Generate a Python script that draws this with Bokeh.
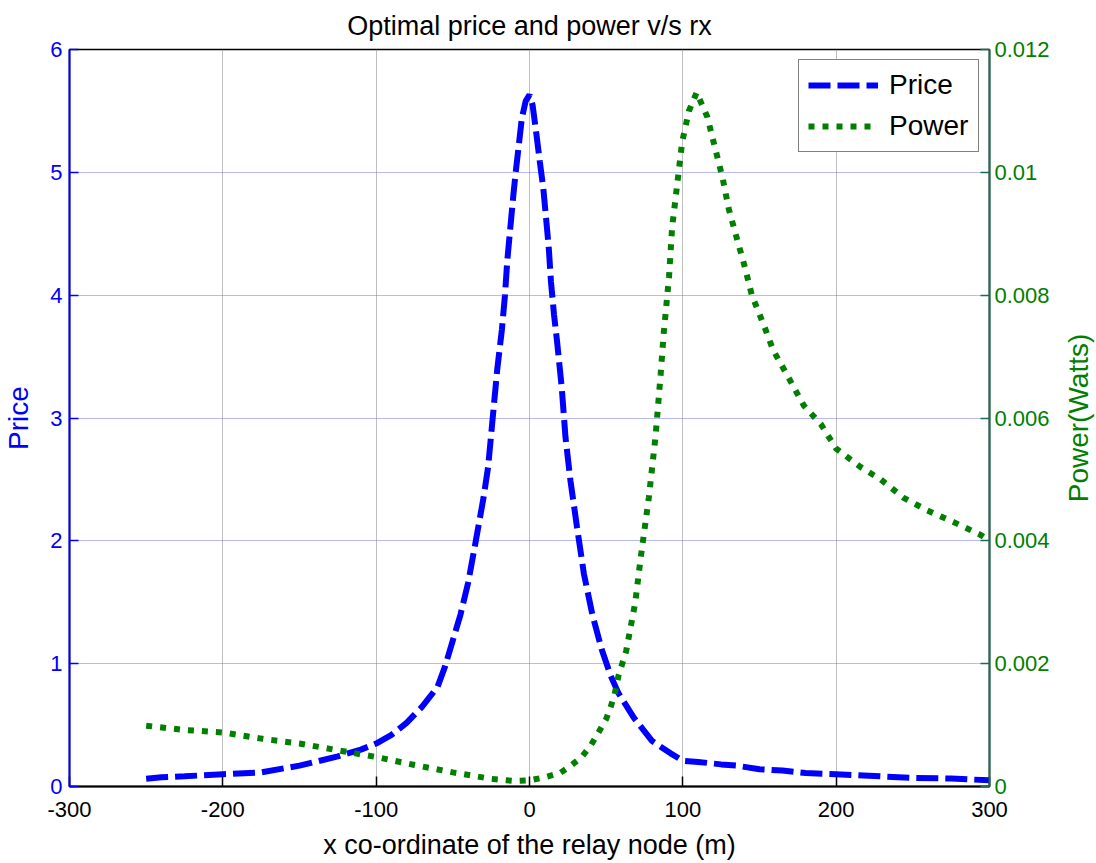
from bokeh.plotting import figure
from bokeh.layouts import row
from bokeh.models import (Range1d, LinearAxis, FixedTicker, CustomJSTickFormatter,
                          Legend, LegendItem, Title)
from bokeh.embed import file_html
from bokeh.resources import INLINE

# ---------------- data ----------------
price_x = [-250, -240, -225, -200, -175, -150, -125, -110, -100, -90, -80, -70, -60, -55,
           -50, -45, -40, -35, -30, -27, -24, -21, -18, -16, -14.5, -12.5, -10.5, -9, -7,
           -5, -2.5, 0, 2, 4, 6.7, 9, 11, 12.6, 14, 16, 18, 21, 23.5, 26.7, 31, 35.5, 41,
           47, 53, 58, 68, 80, 92, 100, 110, 125, 135, 150, 165, 180, 200, 225, 250, 275, 300]
price_y = [0.063, 0.075, 0.083, 0.10, 0.115, 0.17, 0.245, 0.30, 0.35, 0.42, 0.52, 0.65, 0.81, 0.98,
           1.19, 1.40, 1.66, 2.0, 2.35, 2.6, 3.0, 3.4, 3.72, 4.0, 4.28, 4.55, 4.82, 5.0, 5.22,
           5.44, 5.58, 5.63, 5.55, 5.36, 5.09, 4.87, 4.60, 4.38, 4.11, 3.84, 3.62, 3.25, 2.84, 2.49,
           2.11, 1.73, 1.40, 1.12, 0.90, 0.76, 0.56, 0.37, 0.27, 0.21, 0.20, 0.18, 0.17, 0.14, 0.13,
           0.11, 0.10, 0.085, 0.07, 0.065, 0.05]

power_x = [-250, -225, -200, -175, -150, -125, -100, -75, -50, -25, -10, 0, 10, 20, 27, 34, 40,
           45, 50, 53, 55.5, 58, 60.5, 63, 69, 72.4, 77.8, 82.2, 85.5, 87.6, 91, 93, 96.3, 99.6,
           104, 109, 116, 121, 126, 130, 135.5, 140, 145, 153, 159, 168, 179, 190, 200, 216, 229,
           244, 259, 277, 294, 300]
power_y = [0.00099, 0.00092, 0.00088, 0.00078, 0.00070, 0.00059, 0.00048, 0.00035, 0.00023,
           0.000125, 0.00009, 0.0001, 0.00015, 0.00022, 0.00034, 0.00048, 0.00067, 0.00088,
           0.0011, 0.0013, 0.0015, 0.0018, 0.0020, 0.0022, 0.0030, 0.0037, 0.0047, 0.0057,
           0.0067, 0.0074, 0.0083, 0.0091, 0.0098, 0.0105, 0.0110, 0.0113, 0.0109, 0.0104,
           0.0099, 0.0094, 0.0089, 0.0085, 0.0080, 0.0075, 0.0071, 0.0067, 0.0062, 0.0059,
           0.0055, 0.0052, 0.0050, 0.0047, 0.0045, 0.0043, 0.0041, 0.0040]

x_ticks = [-300, -200, -100, 0, 100, 200, 300]
price_ticks = [0, 1, 2, 3, 4, 5, 6]
power_ticks = [0, 0.002, 0.004, 0.006, 0.008, 0.01, 0.012]

BLUE = "#0000FF"
GREEN = "#007F00"
AXR = "#1E6B50"
FONT = "Liberation Sans"

TOTAL_W, H = 1096, 863
LABEL_W = 36
TOP, BOTTOM = 48, 77

plain = CustomJSTickFormatter(code="return String(parseFloat(tick.toPrecision(6)));")

p = figure(width=TOTAL_W - LABEL_W, height=H, output_backend="svg", toolbar_location=None,
           x_range=Range1d(-300, 300), y_range=Range1d(0, 6),
           min_border_left=69, min_border_right=TOTAL_W - LABEL_W - 989,
           min_border_top=TOP, min_border_bottom=60,
           background_fill_color="white", border_fill_color="white")

p.title.text = "Optimal price and power v/s rx"
p.title.align = "center"
p.title.text_font = FONT
p.title.text_font_size = "27px"
p.title.text_font_style = "normal"
p.title.text_color = "black"
p.title.standoff = 17

p.outline_line_color = "black"
p.outline_line_width = 1.5

p.extra_y_ranges = {"power": Range1d(0, 0.012)}

# bottom axis
xa = p.xaxis[0]
xa.ticker = FixedTicker(ticks=x_ticks)
xa.formatter = plain
xa.axis_label = "x co-ordinate of the relay node (m)"
xa.axis_label_text_font = FONT
xa.axis_label_text_font_size = "27px"
xa.axis_label_text_font_style = "normal"
xa.axis_label_text_color = "black"
xa.axis_label_standoff = 10
xa.major_label_text_font = FONT
xa.major_label_text_font_size = "22px"
xa.major_label_text_color = "black"
xa.major_label_standoff = 15
xa.major_tick_in = 10
xa.major_tick_out = 0
xa.minor_tick_line_color = None
xa.axis_line_color = "black"
xa.axis_line_width = 2
xa.major_tick_line_color = "black"
xa.major_tick_line_width = 1.5

# left axis
ya = p.yaxis[0]
ya.ticker = FixedTicker(ticks=price_ticks)
ya.formatter = plain
ya.axis_label = "Price"
ya.axis_label_text_font = FONT
ya.axis_label_text_font_size = "28px"
ya.axis_label_text_font_style = "normal"
ya.axis_label_text_color = BLUE
ya.axis_label_standoff = 13
ya.major_label_text_font = FONT
ya.major_label_text_font_size = "22px"
ya.major_label_text_color = BLUE
ya.major_label_standoff = 7
ya.major_tick_in = 9
ya.major_tick_out = 0
ya.minor_tick_line_color = None
ya.axis_line_color = BLUE
ya.axis_line_width = 2
ya.major_tick_line_color = BLUE
ya.major_tick_line_width = 1.5

# right axis (its title is drawn in a narrow strip to the right, reading bottom-to-top)
ra = LinearAxis(y_range_name="power", ticker=FixedTicker(ticks=power_ticks), formatter=plain)
ra.major_label_text_font = FONT
ra.major_label_text_font_size = "22px"
ra.major_label_text_color = GREEN
ra.major_label_standoff = 5
ra.major_tick_in = 9
ra.major_tick_out = 0
ra.minor_tick_line_color = None
ra.axis_line_color = AXR
ra.axis_line_width = 2
ra.major_tick_line_color = AXR
ra.major_tick_line_width = 1.5
p.add_layout(ra, "right")

# grids
p.xgrid.ticker = FixedTicker(ticks=x_ticks)
p.xgrid.grid_line_color = "#7F7F7F"
p.xgrid.grid_line_dash = "1 1"
p.xgrid.grid_line_width = 1
p.ygrid.ticker = FixedTicker(ticks=price_ticks)
p.ygrid.grid_line_color = "#7070FF"
p.ygrid.grid_line_dash = "1 1"
p.ygrid.grid_line_width = 1

# curves
r_price = p.line(price_x, price_y, line_color=BLUE, line_width=6, line_dash="22 7")
r_power = p.line(power_x, power_y, y_range_name="power", line_color=GREEN, line_width=6,
                 line_dash="6 8")

legend = Legend(items=[LegendItem(label="Price", renderers=[r_price]),
                       LegendItem(label="Power", renderers=[r_power])],
                location="top_right")
legend.label_text_font = FONT
legend.label_text_font_size = "28px"
legend.label_text_color = "black"
legend.glyph_width = 70
legend.glyph_height = 30
legend.label_height = 30
legend.label_width = 80
legend.label_standoff = 11
legend.spacing = 9
legend.padding = 9
legend.margin = 10
legend.border_line_color = "black"
legend.border_line_width = 1.5
legend.background_fill_color = "white"
legend.background_fill_alpha = 1
p.add_layout(legend, "center")

# narrow strip carrying the right-hand axis title
p2 = figure(width=LABEL_W, height=H, output_backend="svg", toolbar_location=None,
            x_range=Range1d(0, 1), y_range=Range1d(0, 1),
            x_axis_location=None, y_axis_location=None,
            min_border_left=0, min_border_right=0, min_border_top=TOP, min_border_bottom=BOTTOM,
            background_fill_color="white", border_fill_color="white",
            outline_line_color=None)
p2.grid.visible = False
p2.title.visible = False
p2.add_layout(Title(text="Power(Watts)", align="center", text_font=FONT,
                    text_font_size="28px", text_font_style="normal", text_color=GREEN,
                    standoff=0, offset=0), "left")

open("out.html", "w").write(file_html(row(p, p2), INLINE))
